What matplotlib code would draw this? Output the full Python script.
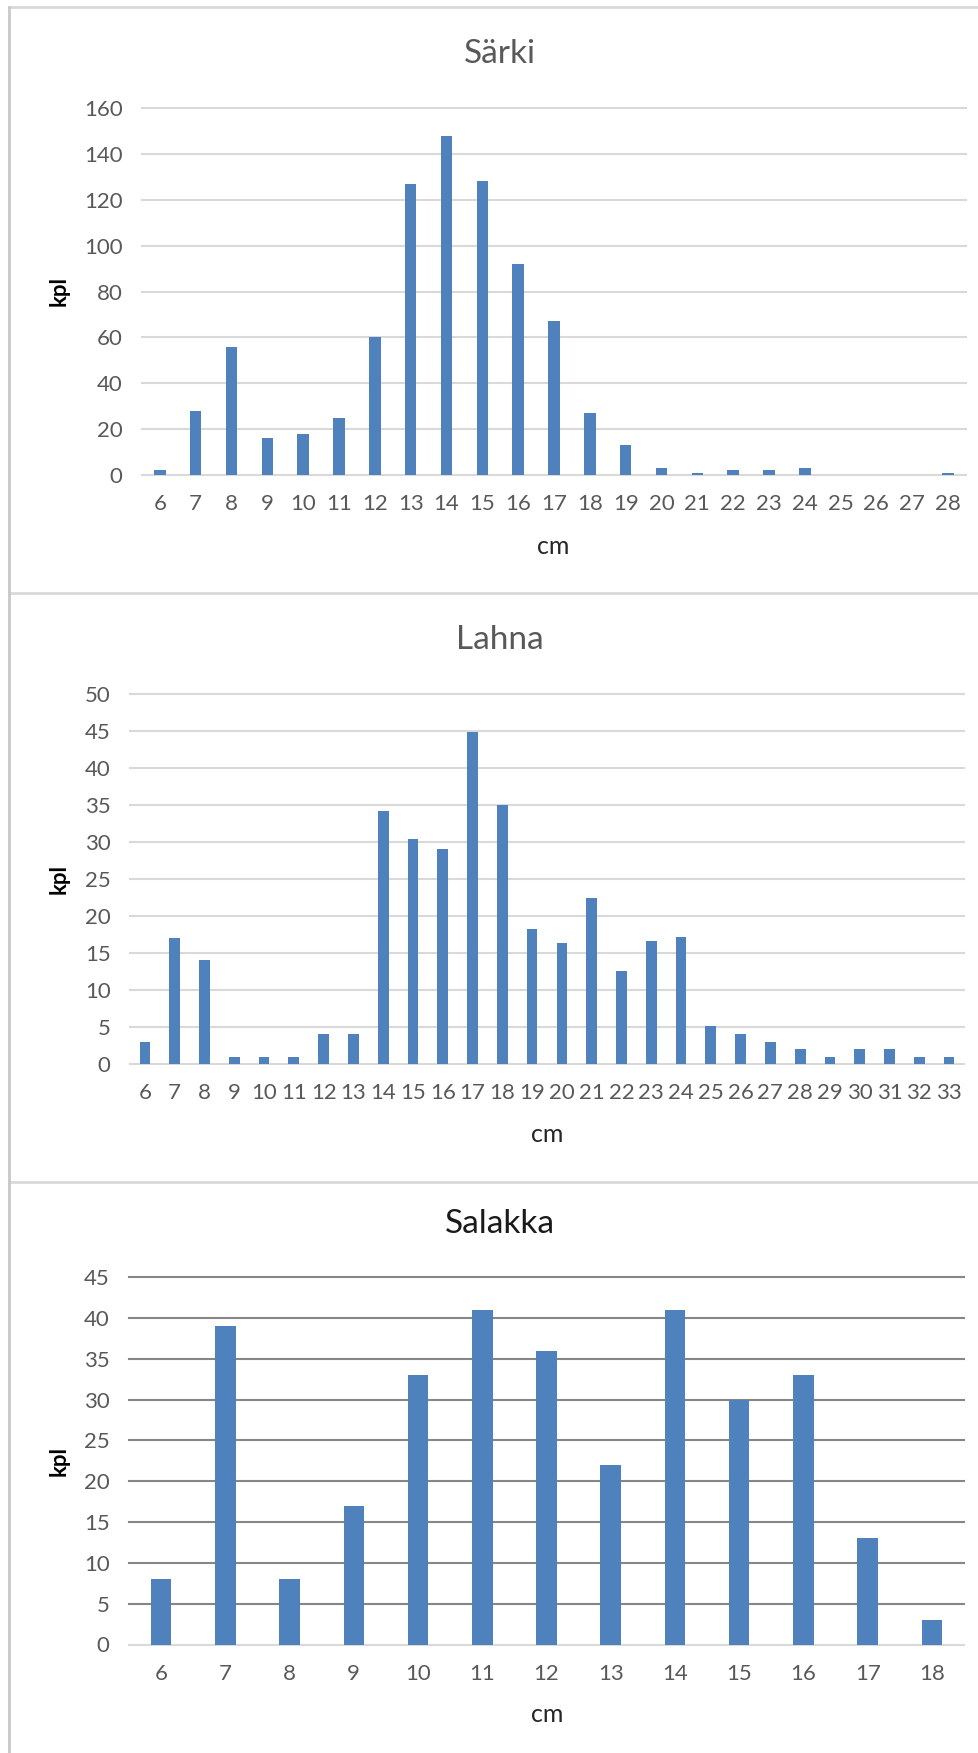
import matplotlib
matplotlib.use('Agg')
import matplotlib.pyplot as plt
from matplotlib.lines import Line2D

W, H = 979, 1753

BAR     = '#4f81bd'
GRID    = '#d9d9d9'
GRID2   = '#868686'
TICK    = '#595959'
BORDER  = '#d9d9d9'

plt.rcParams['font.family'] = ['Lato', 'DejaVu Sans']

# Särki
sarki_cm  = list(range(6, 29))
sarki_kpl = [2, 28, 56, 16, 18, 25, 60, 127, 148, 128, 92, 67, 27, 13,
             3, 1, 2, 2, 3, 0, 0, 0, 1]

# Lahna
lahna_cm  = list(range(6, 34))
lahna_kpl = [3, 17, 14, 1, 1, 1, 4, 4, 34.2, 30.4, 29.0, 44.8, 35.0, 18.2,
             16.4, 22.5, 12.6, 16.6, 17.2, 5.1, 4, 3, 2, 1, 2, 2, 1, 1]

# Salakka
salakka_cm  = list(range(6, 19))
salakka_kpl = [8, 39, 8, 17, 33, 41, 36, 22, 41, 30, 33, 13, 3]


def px_box(left, right, top, bottom):
    return [left / W, 1 - bottom / H, (right - left) / W, (bottom - top) / H]


def draw_panel(fig, box, cats, vals, ymax, ystep, width, title, grid_col,
               title_col, title_xy, kpl_xy, cm_xy):
    ax = fig.add_axes(px_box(*box))
    x = range(len(cats))
    ax.bar(x, vals, width=width, color=BAR, edgecolor='none', zorder=3)
    ax.set_xlim(-0.5, len(cats) - 0.5)
    ax.set_ylim(0, ymax)
    ax.set_xticks(list(x))
    ax.set_xticklabels([str(c) for c in cats])
    ticks = list(range(0, ymax + 1, ystep))
    ax.set_yticks(ticks)
    for t in ticks:
        col = GRID if t == 0 else grid_col
        ax.axhline(t, color=col, lw=1.5, zorder=1, clip_on=False)
    for s in ax.spines.values():
        s.set_visible(False)
    ax.tick_params(axis='both', length=0, labelsize=16, labelcolor=TICK)
    ax.tick_params(axis='y', pad=14)
    ax.tick_params(axis='x', pad=14)
    fig.text(title_xy[0] / W, 1 - title_xy[1] / H, title, fontsize=24,
             color=title_col, ha='center', va='center')
    fig.text(kpl_xy[0] / W, 1 - kpl_xy[1] / H, 'kpl', fontsize=16,
             fontweight='bold', color='black', rotation=90,
             ha='center', va='center')
    fig.text(cm_xy[0] / W, 1 - cm_xy[1] / H, 'cm', fontsize=18,
             color='#262626', ha='center', va='center')
    return ax


fig = plt.figure(figsize=(W / 100, H / 100), dpi=100, facecolor='white')

draw_panel(fig, (142, 966, 108, 475), sarki_cm, sarki_kpl, 160, 20, 0.32,
           'Särki', GRID, TICK, (500, 54), (59, 291), (553, 547))
draw_panel(fig, (130, 964, 694, 1064), lahna_cm, lahna_kpl, 50, 5, 0.36,
           'Lahna', GRID, TICK, (500, 640), (59, 879), (547, 1135))
draw_panel(fig, (129, 964, 1277, 1644.5), salakka_cm, salakka_kpl, 45, 5, 0.32,
           'Salakka', GRID2, '#1a1a1a', (500, 1224), (59, 1461), (547, 1715))

# chart frames
for y in (7, 593, 1182):
    fig.add_artist(Line2D([9 / W, 1], [1 - y / H, 1 - y / H],
                          transform=fig.transFigure, color=BORDER, lw=2))
fig.add_artist(Line2D([9 / W, 9 / W], [1 - 7 / H, 0],
                      transform=fig.transFigure, color='#c8c8c8', lw=2))

fig.savefig('out.png', dpi=100, facecolor='white')
